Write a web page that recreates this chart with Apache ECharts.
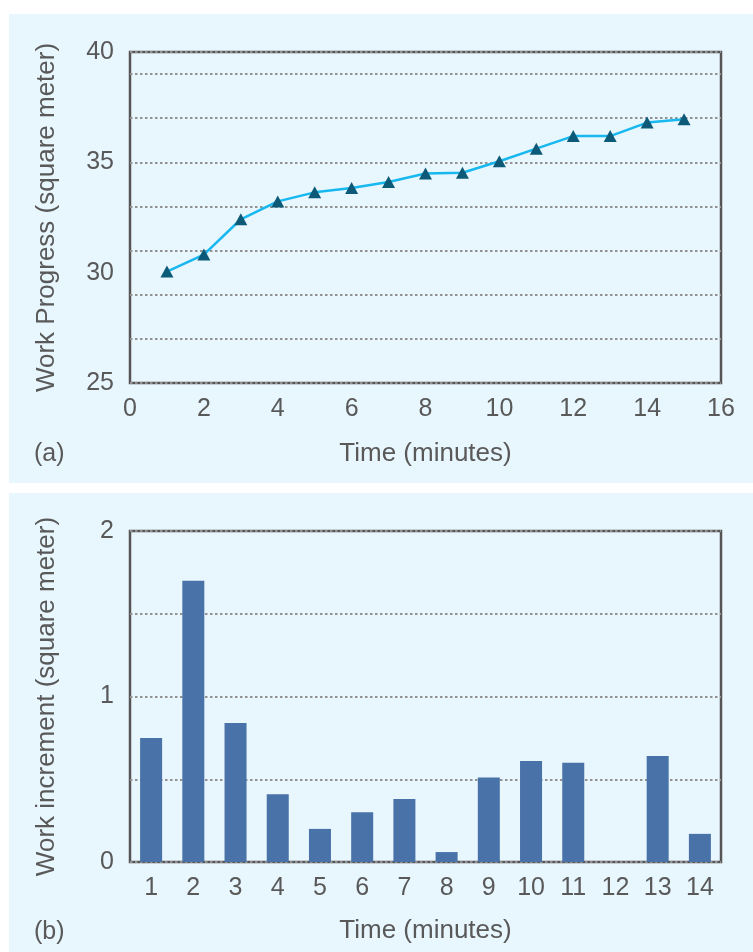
<!DOCTYPE html>
<html>
<head>
<meta charset="utf-8">
<script src="https://cdn.jsdelivr.net/npm/echarts@6/dist/echarts.min.js"></script>
<style>
html,body{margin:0;padding:0;background:#ffffff;}
#chart{width:753px;height:952px;}
</style>
</head>
<body>
<div id="chart"></div>
<script>
// Panel (a): cumulative work progress
var progressTime = [1, 2, 3, 4, 5, 6, 7, 8, 9, 10, 11, 12, 13, 14, 15];
var progressValue = [30.05, 30.82, 32.42, 33.23, 33.64, 33.84, 34.11, 34.49, 34.53, 35.05, 35.62, 36.19, 36.19, 36.80, 36.95];
// Panel (b): work increment per minute
var incrementCategories = ['1', '2', '3', '4', '5', '6', '7', '8', '9', '10', '11', '12', '13', '14'];
var incrementValue = [0.75, 1.70, 0.84, 0.41, 0.20, 0.30, 0.38, 0.06, 0.51, 0.61, 0.60, 0, 0.64, 0.17];
var panelLabels = ['(a)', '(b)'];
var xTitle = 'Time (minutes)';
var yTitleA = 'Work Progress (square meter)';
var yTitleB = 'Work increment (square meter)';

var FONT = '"Liberation Sans", Arial, sans-serif';
var TXT = '#595959';
var FRAME = '#555555';
var GRIDLINE = {show: true, lineStyle: {color: '#929292', width: 2, type: [2.5, 2.5]}};

var chart = echarts.init(document.getElementById('chart'), null, {renderer: 'canvas'});
chart.setOption({
  backgroundColor: '#ffffff',
  animation: false,
  graphic: [
    {type: 'rect', z: -10, silent: true, shape: {x: 9, y: 14, width: 744, height: 469}, style: {fill: '#e8f6fe'}},
    {type: 'rect', z: -10, silent: true, shape: {x: 9, y: 493, width: 744, height: 459}, style: {fill: '#e8f6fe'}},
    {type: 'text', left: 34, top: 442, style: {text: panelLabels[0], fill: TXT, font: '25px ' + FONT}},
    {type: 'text', left: 34, top: 920, style: {text: panelLabels[1], fill: TXT, font: '25px ' + FONT}}
  ],
  grid: [
    {left: 130, right: 32, top: 52, height: 331, show: true, borderColor: FRAME, borderWidth: 2.5, backgroundColor: 'transparent'},
    {left: 130, right: 32, top: 531, height: 331, show: true, borderColor: FRAME, borderWidth: 2.5, backgroundColor: 'transparent'}
  ],
  xAxis: [
    {
      type: 'value', gridIndex: 0, min: 0, max: 16, interval: 2,
      axisLine: {show: false}, axisTick: {show: false}, splitLine: {show: false},
      axisLabel: {color: TXT, fontSize: 25, fontFamily: FONT, margin: 14},
      name: xTitle, nameLocation: 'middle', nameGap: 58,
      nameTextStyle: {color: TXT, fontSize: 26, fontFamily: FONT}
    },
    {
      type: 'category', gridIndex: 1, data: incrementCategories,
      axisLine: {show: false}, axisTick: {show: false}, splitLine: {show: false},
      axisLabel: {color: TXT, fontSize: 25, fontFamily: FONT, margin: 14, interval: 0},
      name: xTitle, nameLocation: 'middle', nameGap: 56,
      nameTextStyle: {color: TXT, fontSize: 26, fontFamily: FONT}
    }
  ],
  yAxis: [
    {
      type: 'value', gridIndex: 0, min: 25, max: 40, interval: 5,
      axisLine: {show: false}, axisTick: {show: false}, splitLine: {show: false},
      axisLabel: {color: TXT, fontSize: 25, fontFamily: FONT, margin: 16},
      name: yTitleA, nameLocation: 'middle', nameGap: 70,
      nameTextStyle: {color: TXT, fontSize: 26, fontFamily: FONT}
    },
    {
      // helper axis: offsets 0..15 above 25, dotted lines at the odd values 27..39
      type: 'value', gridIndex: 0, min: 0, max: 15, interval: 2, position: 'right',
      axisLine: {show: false}, axisTick: {show: false}, axisLabel: {show: false},
      splitLine: GRIDLINE
    },
    {
      type: 'value', gridIndex: 1, min: 0, max: 2, interval: 0.5,
      axisLine: {show: false}, axisTick: {show: false},
      splitLine: GRIDLINE,
      axisLabel: {
        color: TXT, fontSize: 25, fontFamily: FONT, margin: 16,
        formatter: function (v) { return Math.abs(v - Math.round(v)) < 1e-9 ? String(Math.round(v)) : ''; }
      },
      name: yTitleB, nameLocation: 'middle', nameGap: 70,
      nameTextStyle: {color: TXT, fontSize: 26, fontFamily: FONT}
    }
  ],
  series: [
    {
      type: 'line', xAxisIndex: 0, yAxisIndex: 0,
      data: progressTime.map(function (t, i) { return [t, progressValue[i]]; }),
      lineStyle: {color: '#17b8ef', width: 2.5},
      symbol: 'triangle', symbolSize: [13, 12],
      itemStyle: {color: '#0d5a78'},
      z: 5
    },
    {
      type: 'bar', xAxisIndex: 1, yAxisIndex: 2,
      data: incrementValue,
      barWidth: 22,
      itemStyle: {color: '#4872a8'},
      z: 5
    }
  ]
});
</script>
</body>
</html>
